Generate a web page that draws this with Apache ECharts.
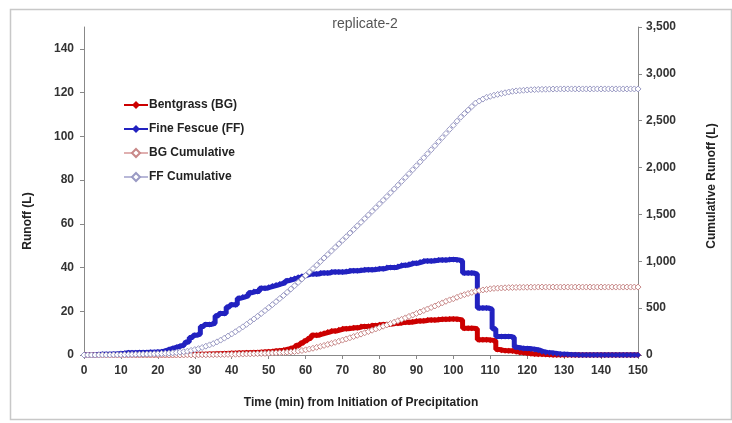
<!DOCTYPE html>
<html>
<head>
<meta charset="utf-8">
<script src="https://cdn.jsdelivr.net/npm/echarts@6/dist/echarts.min.js"></script>
<style>html,body{margin:0;padding:0;background:#fff;}#chart{width:732px;height:423px;}</style>
</head>
<body>
<div id="chart"></div>
<script>
// Time in minutes (0..150, one reading per minute)
const minutes = Array.from({length: 151}, (_, i) => i);

// Bentgrass (BG) runoff, L
const bgRunoff = [
  0,0,0,0,0,0,0,0,0,0,
  0,0,0,0,0,0,0,0,0,0,
  0,0,0,0,0,0.1,0.1,0.2,0.2,0.2,
  0.3,0.3,0.4,0.4,0.5,0.5,0.6,0.6,0.7,0.7,
  0.8,0.8,0.9,0.9,1,1,1.1,1.2,1.3,1.4,
  1.5,1.6,1.8,2,2.2,2.5,3,3.5,4.5,5.5,
  6.5,7.5,9,9,9.5,10,10.5,11,11,11.5,
  12,12,12.2,12.5,12.5,13,13,13.2,13.5,13.5,
  13.8,14,14,14.2,14.5,14.5,14.8,15,15,15.2,
  15.5,15.5,15.7,16,16,16,16.2,16.3,16.3,16.5,
  16.5,16.3,16,12.2,12.2,12.2,12,7,7,7,
  6.8,6.5,2.5,2.2,2,2,1.8,1.5,1.2,1,
  0.8,0.6,0.5,0.4,0.3,0.2,0.1,0,0,0,
  0,0,0,0,0,0,0,0,0,0,
  0,0,0,0,0,0,0,0,0,0,
  0
];

// Fine Fescue (FF) runoff, L
const ffRunoff = [
  0,0,0,0,0.2,0.3,0.3,0.4,0.5,0.5,
  0.7,0.8,1,1,1,1.2,1.2,1.2,1.3,1.3,
  1.4,1.5,1.8,2.5,3,3.5,4,4.5,6,8,
  9,9.5,13,14,14,14.5,18,19,19,22,
  23,23,26,26.5,27,28.5,29,29,30.5,30.5,
  31,31.5,32,32.5,33,34,34.5,35,35.5,36,
  36.5,37,37,37,37.5,37.5,37.5,38,38,38,
  38,38.2,38.5,38.5,38.5,38.8,39,39,39,39.2,
  39.5,39.5,40,40,40,40.5,41,41,41.5,42,
  42,42.5,43,43,43,43.2,43.5,43.5,43.5,43.7,
  43.7,43.5,43,37.5,37.5,37.5,37,21.5,21.5,21.5,
  21,12,8.5,8.5,8.5,8.5,8,3.5,3.2,3,
  3,2.8,2.5,2.2,1.5,1.2,1,0.8,0.6,0.4,
  0.3,0.2,0.1,0.1,0,0,0,0,0,0,
  0,0,0,0,0,0,0,0,0,0,
  0
];

// BG cumulative runoff, L
const bgCumulative = [
  0,0,0,0,0,0,0,0,0,0,
  0,0,0,0,0,0,0,0,0,0,
  0,0,0,0,0,0,0,0,1,1,
  1,1,2,2,3,3,4,4,5,6,
  7,8,9,10,11,12,13,14,16,17,
  19,21,23,25,27,30,33,37,42,48,
  55,63,72,82,92,102,113,124,135,147,
  159,171,184,197,210,223,237,250,264,278,
  292,307,321,336,351,366,381,396,412,427,
  443,459,475,491,507,523,540,556,573,588,
  600,616,632,644,656,668,680,687,694,700,
  706,711,713,715,717,719,720,721,722,723,
  723,724,724,725,725,725,725,725,725,725,
  725,725,725,725,725,725,725,725,725,725,
  725,725,725,725,725,725,725,725,725,725,
  725
];

// FF cumulative runoff, L
const ffCumulative = [
  0,0,0,0,0,1,1,1,2,2,
  3,4,5,6,7,8,9,10,11,13,
  14,16,18,20,23,27,31,35,41,49,
  58,68,80,94,108,122,140,159,180,202,
  225,248,274,300,327,355,384,413,443,474,
  505,537,569,602,635,669,704,739,775,811,
  848,885,922,959,997,1035,1072,1110,1148,1186,
  1224,1262,1301,1339,1378,1416,1455,1494,1533,1572,
  1612,1651,1691,1731,1771,1812,1853,1894,1935,1977,
  2019,2061,2104,2147,2190,2233,2277,2320,2364,2408,
  2451,2495,2538,2576,2613,2651,2688,2710,2731,2750,
  2760,2772,2781,2790,2798,2806,2814,2818,2822,2825,
  2828,2830,2832,2834,2835,2836,2837,2838,2838,2839,
  2839,2839,2839,2839,2839,2839,2839,2839,2839,2839,
  2839,2839,2839,2839,2839,2839,2839,2839,2839,2839,
  2839
];

const seriesNames = ['Bentgrass (BG)', 'Fine Fescue (FF)', 'BG Cumulative', 'FF Cumulative'];
const leftTicks = [0, 20, 40, 60, 80, 100, 120, 140];

const pairs = arr => arr.map((v, i) => [minutes[i], v]);

const labelStyle = {color: '#333', fontFamily: 'Liberation Sans', fontSize: 12, fontWeight: 'bold'};
const axisLineStyle = {lineStyle: {color: '#888', width: 1}};

const chart = echarts.init(document.getElementById('chart'), null, {renderer: 'canvas'});
chart.setOption({
  animation: false,
  backgroundColor: '#fff',
  graphic: [{
    type: 'rect', left: 8, top: 7, shape: {width: 721, height: 410},
    style: {fill: 'none', stroke: '#c8c8c8', lineWidth: 1.5}, silent: true
  }],
  title: {
    text: 'replicate-2', left: 360, top: 12, textAlign: 'center',
    textStyle: {color: '#555', fontFamily: 'Liberation Sans', fontSize: 14, fontWeight: 'normal'}
  },
  legend: {
    orient: 'vertical', left: 118, top: 94, itemGap: 12, itemWidth: 24, itemHeight: 10,
    data: seriesNames,
    textStyle: {color: '#222', fontFamily: 'Liberation Sans', fontSize: 12, fontWeight: 'bold', padding: [0,0,0,-4]}
  },
  grid: {left: 84, right: 94, top: 27, bottom: 68},
  xAxis: {
    type: 'value', min: 0, max: 150, interval: 10,
    name: 'Time (min) from Initiation of Precipitation',
    nameLocation: 'middle', nameGap: 42,
    nameTextStyle: {color: '#222', fontFamily: 'Liberation Sans', fontSize: 12, fontWeight: 'bold'},
    axisLine: axisLineStyle,
    axisTick: {show: true, length: 4, lineStyle: {color: '#888'}},
    axisLabel: Object.assign({margin: 10}, labelStyle),
    splitLine: {show: false}
  },
  yAxis: [{
    type: 'value', min: 0, max: 150, interval: 20,
    name: 'Runoff (L)', nameLocation: 'middle', nameGap: 50, nameRotate: 90,
    nameTextStyle: {color: '#222', fontFamily: 'Liberation Sans', fontSize: 12, fontWeight: 'bold', padding: [0, 60, 0, 0]},
    axisLine: {show: true, lineStyle: {color: '#888'}},
    axisTick: {show: true, length: 4, lineStyle: {color: '#888'}},
    axisLabel: Object.assign({margin: 10, showMaxLabel: false,
      formatter: v => leftTicks.indexOf(v) >= 0 ? String(v) : ''}, labelStyle),
    splitLine: {show: false}
  }, {
    type: 'value', min: 0, max: 3500, interval: 500,
    name: 'Cumulative Runoff (L)', nameLocation: 'middle', nameGap: 68, nameRotate: 90,
    nameTextStyle: {color: '#222', fontFamily: 'Liberation Sans', fontSize: 12, fontWeight: 'bold', padding: [0, 0, 0, 10]},
    axisLine: {show: true, lineStyle: {color: '#888'}},
    axisTick: {show: true, length: 4, lineStyle: {color: '#888'}},
    axisLabel: Object.assign({margin: 8, formatter: v => v.toLocaleString('en-US')}, labelStyle),
    splitLine: {show: false}
  }],
  series: [{
    name: seriesNames[0], type: 'line', yAxisIndex: 0, data: pairs(bgRunoff),
    step: 'middle', symbol: 'diamond', symbolSize: 6,
    lineStyle: {color: '#cc0000', width: 5}, itemStyle: {color: '#cc0000'}
  }, {
    name: seriesNames[1], type: 'line', yAxisIndex: 0, data: pairs(ffRunoff),
    step: 'middle', symbol: 'diamond', symbolSize: 6,
    lineStyle: {color: '#2222c0', width: 5}, itemStyle: {color: '#2222c0'}
  }, {
    name: seriesNames[2], type: 'line', yAxisIndex: 1, data: pairs(bgCumulative),
    symbol: 'diamond', symbolSize: 6,
    lineStyle: {color: '#e0b0b0', width: 1},
    itemStyle: {color: '#fff', borderColor: '#c88888', borderWidth: 1}
  }, {
    name: seriesNames[3], type: 'line', yAxisIndex: 1, data: pairs(ffCumulative),
    symbol: 'diamond', symbolSize: 6,
    lineStyle: {color: '#b8b8d8', width: 1},
    itemStyle: {color: '#fff', borderColor: '#9a9ac4', borderWidth: 1}
  }]
});
</script>
</body>
</html>
